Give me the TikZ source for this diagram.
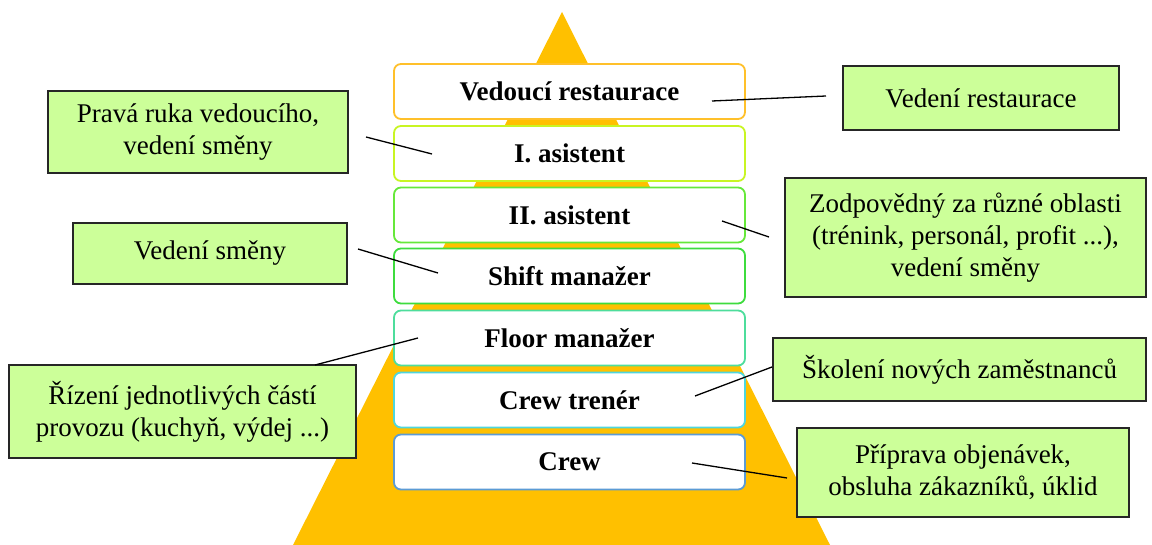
\documentclass[tikz,border=0pt]{standalone}
\usepackage{fontspec}
\setmainfont{Liberation Serif}
\definecolor{pyr}{HTML}{FFC000}
\definecolor{notegreen}{HTML}{CCFF99}
\definecolor{bA}{HTML}{FFC02A}
\definecolor{bB}{HTML}{C8F523}
\definecolor{bC}{HTML}{66E83A}
\definecolor{bD}{HTML}{3EDC3E}
\definecolor{bE}{HTML}{4EDD9C}
\definecolor{bF}{HTML}{4ED6DE}
\definecolor{bG}{HTML}{5B9BD5}
\begin{document}
\begin{tikzpicture}[x=1pt,y=-1pt,
  lvl/.style={draw=#1, line width=1.8pt, rounded corners=7pt, fill=white,
    minimum width=351pt, minimum height=55pt, inner sep=0pt,
    font=\fontsize{27}{32}\selectfont\bfseries},
  note/.style={draw=black!85, line width=1.2pt, fill=notegreen, inner sep=0pt,
    align=center, font=\fontsize{27}{32}\selectfont},
  conn/.style={line width=1.3pt, black}]
\useasboundingbox (0,0) rectangle (1152,545);
% pyramid
\fill[pyr] (562,12) -- (830,545) -- (293,545) -- cycle;
% levels
\node[lvl=bA] (l1) at (569.5,91.5) {Vedoucí restaurace};
\node[lvl=bB] (l2) at (569.5,153.5) {I. asistent};
\node[lvl=bC] (l3) at (569.5,215) {II. asistent};
\node[lvl=bD] (l4) at (569.5,276) {Shift manažer};
\node[lvl=bE] (l5) at (569.5,338) {Floor manažer};
\node[lvl=bF] (l6) at (569.5,400) {Crew trenér};
\node[lvl=bG] (l7) at (569.5,462) {Crew};
% notes
\node[note, minimum width=276pt, minimum height=64pt] (n1) at (981,98) {Vedení restaurace};
\node[note, minimum width=300pt, minimum height=82pt] (n2) at (198,132) {Pravá ruka vedoucího,\\vedení směny};
\node[note, minimum width=361pt, minimum height=119pt] (n3) at (965.5,237.5) {Zodpovědný za různé oblasti\\(trénink, personál, profit ...),\\vedení směny};
\node[note, minimum width=274pt, minimum height=61pt] (n4) at (210,253.5) {Vedení směny};
\node[note, minimum width=347pt, minimum height=93pt] (n5) at (182.5,411.5) {Řízení jednotlivých částí\\provozu (kuchyň, výdej ...)};
\node[note, minimum width=373pt, minimum height=63pt] (n6) at (959.5,369.5) {Školení nových zaměstnanců};
\node[note, minimum width=332pt, minimum height=89pt] (n7) at (963,472.5) {Příprava objenávek,\\obsluha zákazníků, úklid};
% connector end points
\coordinate (c1a) at (712,101); \coordinate (c1b) at (826,96);
\coordinate (c2a) at (366,137); \coordinate (c2b) at (432,154);
\coordinate (c3a) at (722,221); \coordinate (c3b) at (769,237);
\coordinate (c4a) at (358,249); \coordinate (c4b) at (438,273);
\coordinate (c5a) at (418,338); \coordinate (c5b) at (315,365);
\coordinate (c6a) at (695,396); \coordinate (c6b) at (772,367);
\coordinate (c7a) at (692,463); \coordinate (c7b) at (787,478);
\draw[conn] (c1a) -- (c1b);
\draw[conn] (c2a) -- (c2b);
\draw[conn] (c3a) -- (c3b);
\draw[conn] (c4a) -- (c4b);
\draw[conn] (c5a) -- (c5b);
\draw[conn] (c6a) -- (c6b);
\draw[conn] (c7a) -- (c7b);
\end{tikzpicture}
\end{document}
